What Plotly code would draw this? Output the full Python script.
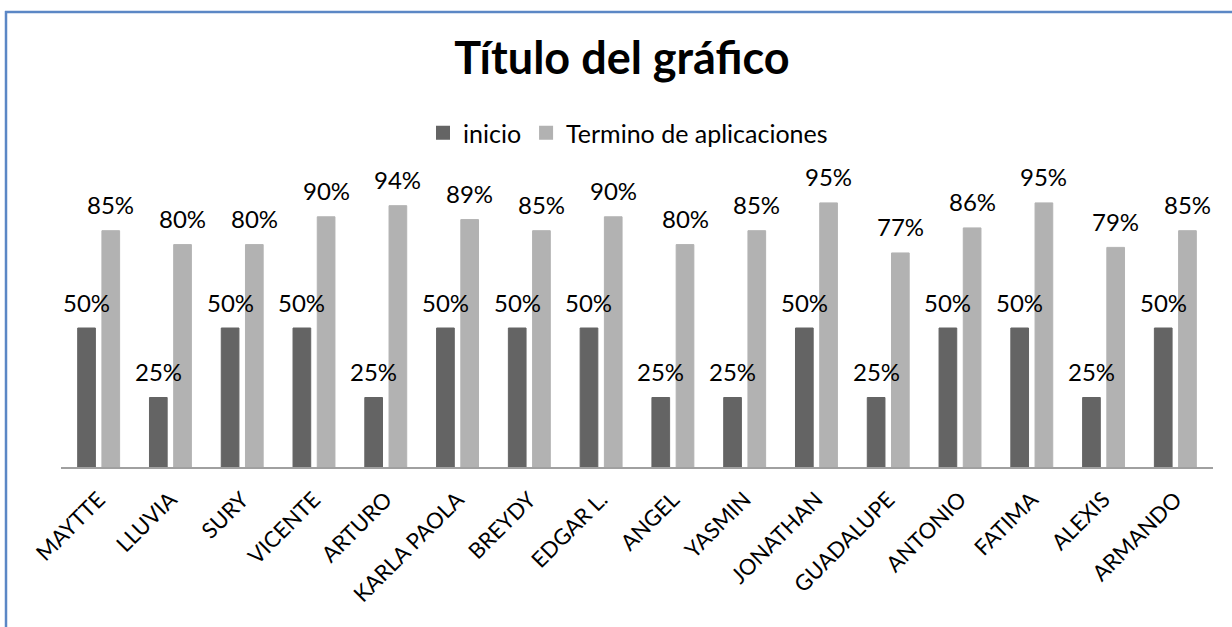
import plotly.graph_objects as go

categories = ["MAYTTE", "LLUVIA", "SURY", "VICENTE", "ARTURO", "KARLA PAOLA", "BREYDY",
              "EDGAR L.", "ANGEL", "YASMIN", "JONATHAN", "GUADALUPE", "ANTONIO", "FATIMA",
              "ALEXIS", "ARMANDO"]
inicio = [0.50, 0.25, 0.50, 0.50, 0.25, 0.50, 0.50, 0.50, 0.25, 0.25, 0.50, 0.25, 0.50, 0.50, 0.25, 0.50]
termino = [0.85, 0.80, 0.80, 0.90, 0.94, 0.89, 0.85, 0.90, 0.80, 0.85, 0.95, 0.77, 0.86, 0.95, 0.79, 0.85]

FONT = "Lato"
DARK, LIGHT = "#646464", "#b2b2b2"

W, H = 1232, 627
L, R, T, B = 61, 1213, 189, 467
pw, ph = R - L, B - T

def px(x):
    return (x - L) / pw

def py(y):
    return (B - y) / ph

BARGAP, GROUPGAP = 0.325, 0.27
cat_w = pw / len(categories)
slot = cat_w * (1 - BARGAP) / 2
offset = slot / 2

fig = go.Figure()
fig.add_trace(go.Bar(x=categories, y=inicio, name="inicio", marker_color=DARK,
                     marker_line=dict(width=1, color=DARK)))
fig.add_trace(go.Bar(x=categories, y=termino, name="Termino de aplicaciones", marker_color=LIGHT,
                     marker_line=dict(width=1, color=LIGHT)))

annotations = []
for vals, sh in ((inicio, -offset), (termino, offset)):
    for c, v in zip(categories, vals):
        annotations.append(dict(x=c, y=v, xref="x", yref="y", text=f"{v:.0%}",
                                showarrow=False, xshift=sh, yshift=26, yanchor="middle",
                                xanchor="center",
                                font=dict(size=24, family=FONT, color="black")))

fig.update_layout(
    width=W, height=H,
    margin=dict(l=L, r=W - R, t=T, b=H - B),
    paper_bgcolor="white", plot_bgcolor="white",
    barmode="group", bargap=BARGAP, bargroupgap=GROUPGAP,
    font=dict(family=FONT, color="black"),
    title=dict(text="<b>Título del gráfico</b>", x=622 / W, xanchor="center",
               y=1 - 58 / H, yanchor="middle", yref="container", xref="container",
               font=dict(size=45, family=FONT, color="black")),
    legend=dict(orientation="h", x=px(628), xanchor="center", y=py(133), yanchor="middle",
                font=dict(size=25, family=FONT), itemsizing="constant"),
    xaxis=dict(showline=True, linecolor="#a0a0a0", linewidth=2, tickangle=-45,
               tickfont=dict(size=22, family=FONT), ticks="", showgrid=False,
               ticklabelstandoff=9),
    yaxis=dict(range=[0, 1], visible=False, showgrid=False),
    annotations=annotations,
    shapes=[
        dict(type="line", xref="paper", yref="paper", x0=px(5), x1=px(1245),
             y0=py(12), y1=py(12), line=dict(color="#5b87c5", width=2.5)),
        dict(type="line", xref="paper", yref="paper", x0=px(6), x1=px(6),
             y0=py(11), y1=py(640), line=dict(color="#5b87c5", width=2.5)),
    ],
)

fig.write_html("out.html", config={"displayModeBar": False},
               post_script="document.body.style.margin='0';")
